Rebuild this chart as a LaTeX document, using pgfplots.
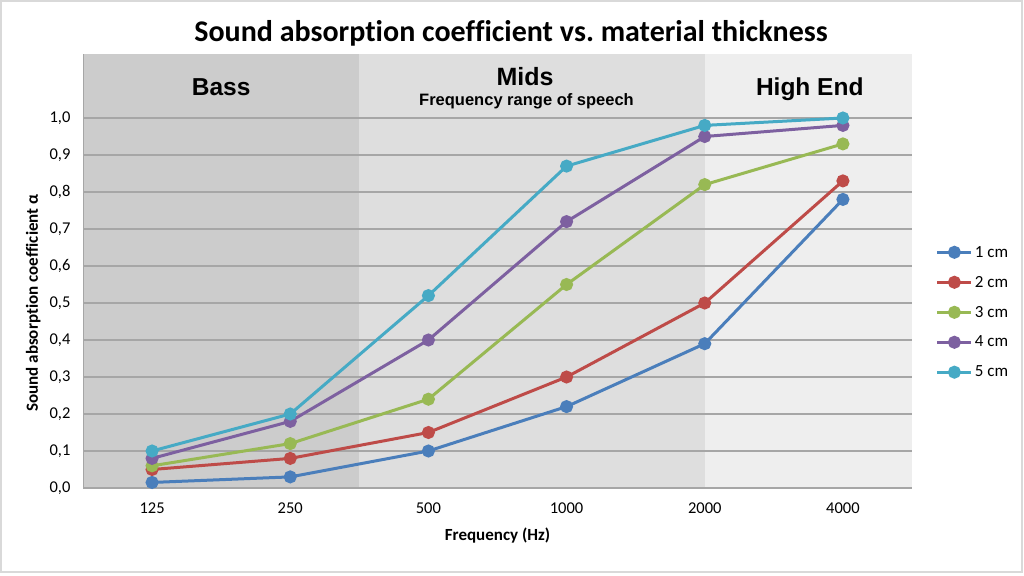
\documentclass[border=0pt]{standalone}
\usepackage{fontspec}
\setmainfont{Carlito}[Ligatures=NoCommon]
\newfontfamily\bandfont{Liberation Sans}
\usepackage{pgfplots}
\pgfplotsset{compat=1.18}
\frenchspacing
\definecolor{c1}{HTML}{4A7EBB}
\definecolor{c2}{HTML}{BE4B48}
\definecolor{c3}{HTML}{98B954}
\definecolor{c4}{HTML}{7D60A0}
\definecolor{c5}{HTML}{46AAC5}
\definecolor{bandA}{HTML}{CCCCCC}
\definecolor{bandB}{HTML}{DEDEDE}
\definecolor{bandC}{HTML}{EEEEEE}
\definecolor{gridc}{HTML}{A6A6A6}
\definecolor{framec}{HTML}{D9D9D9}
\pgfplotsset{
  base/.style={
    at={(83pt,87pt)}, anchor=south west,
    scale only axis, width=829pt, height=434pt,
    xmin=-0.5, xmax=5.5, ymin=0, ymax=1.173,
  }
}
\begin{document}
\begin{tikzpicture}
\path[use as bounding box] (0pt,0pt) rectangle (1024pt,575pt);
\draw[color=framec, line width=1.2pt] (1pt,3pt) rectangle (1022pt,574pt);
\node[anchor=base, font=\bfseries\fontsize{30}{36}\selectfont] at (511pt,533pt) {Sound absorption coefficient vs.\ material thickness};
\begin{axis}[base, hide axis]
\addplot[fill=bandA, draw=none] coordinates {(-0.5,0) (1.5,0) (1.5,1.173) (-0.5,1.173)} -- cycle;
\addplot[fill=bandB, draw=none] coordinates {(1.5,0) (4.0,0) (4.0,1.173) (1.5,1.173)} -- cycle;
\addplot[fill=bandC, draw=none] coordinates {(4.0,0) (5.5,0) (5.5,1.173) (4.0,1.173)} -- cycle;
\end{axis}
\begin{axis}[
  base,
  xtick={0,1,2,3,4,5}, xticklabels={125,250,500,1000,2000,4000},
  ytick={0,0.1,0.2,0.3,0.4,0.5,0.6,0.7,0.8,0.9,1.0},
  /pgf/number format/use comma,
  /pgf/number format/fixed,
  /pgf/number format/fixed zerofill,
  /pgf/number format/precision=1,
  /pgf/number format/assume math mode=true,
  ymajorgrids, grid style={gridc, line width=1.2pt},
  axis x line*=bottom, axis y line*=left,
  x axis line style={draw=gridc, line width=1.8pt},
  y axis line style={draw=gridc, line width=0.8pt},
  major tick length=0pt, tick style={draw=none},
  tick label style={font=\fontsize{16.5}{20}\selectfont},
  xticklabel style={yshift=-11pt},
  yticklabel style={xshift=-9pt},
  xlabel={Frequency (Hz)},
  xlabel style={at={(axis description cs:0.5,-0.1221)}, anchor=base, font=\bfseries\fontsize{17}{20}\selectfont},
  ylabel={Sound absorption coefficient α},
  ylabel style={at={(axis description cs:-0.0543,0.426)}, anchor=base, font=\bfseries\fontsize{17}{20}\selectfont},
  legend style={at={(1.025,0.405)}, anchor=west, draw=none, fill=none, font=\fontsize{17}{20}\selectfont, row sep=13.5pt,
    nodes={inner xsep=2pt}},
  legend cell align=left,
  legend image code/.code={\draw[mark repeat=2,mark phase=2] plot coordinates {(0pt,0pt) (17pt,0pt) (34pt,0pt)};},
  every axis plot/.append style={line width=3pt, mark=*, mark size=5pt, mark options={solid}},
  clip=false,
]
\addplot[c1] coordinates {(0,0.015) (1,0.03) (2,0.10) (3,0.22) (4,0.39) (5,0.78)};
\addlegendentry{1 cm}
\addplot[c2] coordinates {(0,0.05) (1,0.08) (2,0.15) (3,0.30) (4,0.50) (5,0.83)};
\addlegendentry{2 cm}
\addplot[c3] coordinates {(0,0.06) (1,0.12) (2,0.24) (3,0.55) (4,0.82) (5,0.93)};
\addlegendentry{3 cm}
\addplot[c4] coordinates {(0,0.08) (1,0.18) (2,0.40) (3,0.72) (4,0.95) (5,0.98)};
\addlegendentry{4 cm}
\addplot[c5] coordinates {(0,0.10) (1,0.20) (2,0.52) (3,0.87) (4,0.98) (5,1.00)};
\addlegendentry{5 cm}
\node[anchor=base, font=\bandfont\bfseries\fontsize{24.5}{29}\selectfont] at (axis cs:0.5,1.062) {Bass};
\node[anchor=base, font=\bandfont\bfseries\fontsize{25}{30}\selectfont] at (axis cs:2.70,1.089) {Mids};
\node[anchor=base, font=\bandfont\bfseries\fontsize{16.5}{20}\selectfont] at (axis cs:2.71,1.035) {Frequency range of speech};
\node[anchor=base, font=\bandfont\bfseries\fontsize{24.5}{29}\selectfont] at (axis cs:4.76,1.062) {High End};
\end{axis}
\end{tikzpicture}
\end{document}
